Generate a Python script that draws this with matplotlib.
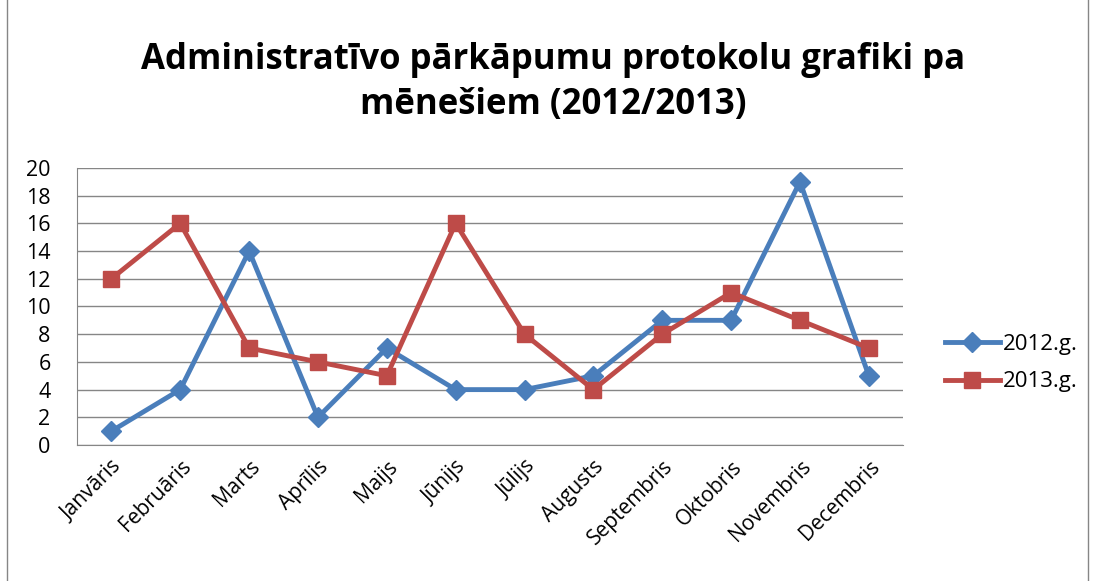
import matplotlib.pyplot as plt
import numpy as np
from matplotlib.patches import Rectangle

months = ["Janvāris", "Februāris", "Marts", "Aprīlis", "Maijs", "Jūnijs",
          "Jūlijs", "Augusts", "Septembris", "Oktobris", "Novembris", "Decembris"]
y2012 = [1, 4, 14, 2, 7, 4, 4, 5, 9, 9, 19, 5]
y2013 = [12, 16, 7, 6, 5, 16, 8, 4, 8, 11, 9, 7]

plt.rcParams['font.family'] = ['Open Sans', 'DejaVu Sans']

fig = plt.figure(figsize=(10.93, 5.81), dpi=100)
ax = fig.add_axes([0.0704, 0.234, 0.756, 0.477])

x = np.arange(len(months))
ax.plot(x, y2012, color="#4A7EBB", lw=3.5, marker="D", ms=10, label="2012.g.")
ax.plot(x, y2013, color="#BE4B48", lw=3.5, marker="s", ms=12, label="2013.g.")

ax.set_xlim(-0.5, 11.5)
ax.set_ylim(0, 20)
ax.set_yticks(range(0, 21, 2))
ax.set_xticks(x)
ax.set_xticklabels(months, rotation=45, ha="right", rotation_mode="anchor", fontsize=15)
ax.tick_params(axis="y", labelsize=15.5, length=0, pad=19)
ax.tick_params(axis="x", length=0, pad=8)
ax.yaxis.grid(True, color="#868686", lw=1)
ax.set_axisbelow(True)
for s in ["top", "right"]:
    ax.spines[s].set_visible(False)
for s in ["left", "bottom"]:
    ax.spines[s].set_color("#868686")

fig.text(0.506, 0.858, "Administratīvo pārkāpumu protokolu grafiki pa\nmēnešiem (2012/2013)",
         ha="center", va="center", fontsize=25, fontweight="bold", linespacing=1.3)

fig.legend(loc="center left", bbox_to_anchor=(0.846, 0.375), frameon=False,
           fontsize=16, handlelength=2.5, handletextpad=0.1, labelspacing=0.75)

fig.patches.append(Rectangle((0.0064, -0.01), 0.989, 1.02, transform=fig.transFigure,
                             fill=False, edgecolor="#868686", lw=1))

fig.savefig("out.png", dpi=100)
